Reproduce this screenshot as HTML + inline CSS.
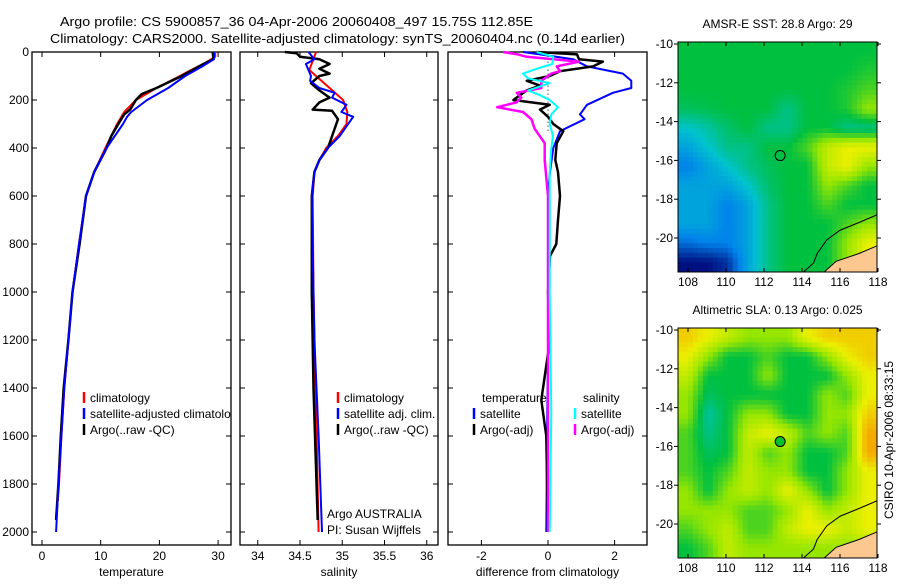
<!DOCTYPE html>
<html><head><meta charset="utf-8"><style>
body{margin:0;background:#fff;width:900px;height:580px;overflow:hidden}
svg{font-family:"Liberation Sans",sans-serif;font-size:12px}
</style></head><body>
<svg id="root" width="900" height="580" viewBox="0 0 900 580">
<text x="60" y="26" font-size="13" textLength="473" lengthAdjust="spacingAndGlyphs">Argo profile: CS 5900857_36 04-Apr-2006 20060408_497 15.75S 112.85E</text>
<text x="50" y="43" font-size="13" textLength="575" lengthAdjust="spacingAndGlyphs">Climatology: CARS2000. Satellite-adjusted climatology: synTS_20060404.nc (0.14d earlier)</text>
<g id="plots"></g>
<text transform="translate(893,440) rotate(-90)" text-anchor="middle" font-size="12">CSIRO 10-Apr-2006 08:33:15</text>
</svg>
<script>
// ---------- profile data ----------
const tClimD=[0,20,50,80,100,150,200,250,300,400,500,600,800,1000,1200,1400,1600,1800,1870];
const tClimV=[29.5,29.5,27.5,25,23.5,19.5,16,14,12.8,10.8,8.9,7.5,6.3,5.2,4.5,3.8,3.3,2.9,2.7];
const tSatD=[0,30,60,100,150,200,250,270,300,400,500,600,800,1000,1200,1400,1600,1800,2000];
const tSatV=[29.3,29.3,27.3,24.4,21.5,17.9,15.2,14.5,13.8,11,8.9,7.5,6.3,5.2,4.5,3.8,3.3,2.8,2.4];
const tArgD=[0,30,50,100,150,175,200,240,260,280,300,350,400,500,600,800,1000,1200,1400,1600,1800,1950];
const tArgV=[29.1,29.2,27.5,23.8,19.5,17,16,15,14,13.5,13,11.8,11,8.9,7.5,6.4,5.2,4.5,3.7,3.2,2.8,2.4];
const sClimD=[0,75,150,200,250,300,350,400,450,500,600,1000,1500,2000];
const sClimV=[34.69,34.61,34.85,35.01,35.06,35.05,34.95,34.81,34.73,34.67,34.65,34.66,34.69,34.72];
const sSatD=[0,30,50,100,120,150,170,190,220,250,270,350,400,450,500,600,1200,1600,2000];
const sSatV=[34.6,34.67,34.57,34.63,34.62,34.73,34.91,34.88,35.05,34.99,35.13,34.97,34.83,34.73,34.67,34.64,34.67,34.72,34.76];
const sArgD=[0,5,20,30,50,70,90,100,130,160,190,210,240,245,280,350,400,450,500,600,1000,1400,1950];
const sArgV=[34.32,34.46,34.5,34.73,34.85,34.73,34.85,34.73,34.63,34.73,34.85,34.73,34.65,34.88,34.95,34.88,34.83,34.73,34.67,34.64,34.64,34.66,34.71];
const dTSatD=[0,10,30,60,90,120,150,170,220,260,280,330,400,500,600,1000,1500,2000];
const dTSatV=[-0.75,-0.24,0.75,1.17,2.25,2.5,2.5,1.95,1.17,0.96,1.1,0.36,0.16,0.06,0,0.02,-0.02,-0.05];
const dTArgD=[0,10,30,40,60,80,100,120,140,160,180,200,220,240,270,300,330,380,450,500,600,700,800,850,1000,1200,1450,1600,2000];
const dTArgV=[-0.34,0.87,0.93,1.65,1.35,0.36,0.05,-0.64,-0.24,-0.64,-0.84,-1.04,0.05,-0.24,0.0,0.16,0.46,0.26,0.22,0.3,0.36,0.3,0.25,0.06,0,0.06,-0.2,-0.05,0];
const dSSatD=[0,20,50,70,90,110,130,160,180,200,230,260,300,350,400,500,1000,1500,2000];
const dSSatV=[-0.34,0.16,0.13,-0.34,-0.75,-0.6,0.05,-0.6,-0.24,0.05,0.3,0.1,0.05,0.15,0.1,0.05,0.05,0.1,0.05];
const dSArgD=[0,10,20,40,60,80,90,120,150,170,190,210,230,250,280,320,380,450,600,2000];
const dSArgV=[-1.35,-0.9,-0.64,0.93,0.26,0.36,0.1,-0.2,-0.2,-0.94,-0.8,-0.95,-1.53,-0.75,-0.5,-0.4,-0.1,-0.1,0,0];
const depthTicks=[0,200,400,600,800,1000,1200,1400,1600,1800,2000];
const tTicks=[0,10,20,30], sTicks=[34,34.5,35,35.5,36], dTicks=[-2,0,2];
// ---------- map data (coarse grids, colour index) ----------
const sstGrid=[
[3,3,3,3,3,3,3,3,3,3],[3,3,3,3,3,3,3,3,3,3.2],[3,3,3,3,3,3,3,3,3.2,3.5],
[2.8,2.9,3,3,3,2.5,3,3,3.2,4],[2,2.3,2.7,3,2.5,2.5,3,3,2.5,2.5],[1.5,2,2.5,2.5,3,3,3.5,4.5,5,5],
[1,1.5,2,2.5,2.8,3,3,4.5,5,4],[1.5,1.5,1.5,2,2.7,3,3,4,3.5,3],[1.5,1.5,1,1.5,2.5,3,3,3.5,3,3],
[1.5,1.5,1,1.5,2.5,3,3,3,3.5,4],[0.8,1,1,1.5,2.5,3,3,3,4,5],[0,0,0.3,1.5,2.5,3,3,3,4,5]];
const slaGrid=[
[5.5,5,4.5,4,4,4,5,5.5,5.5,5.5],[5,4,3,3,3.5,3,3,4,5,5.5],[4.5,3,3,3,4,3,3,3,4,5],
[4,2.8,3,3,3,3,3,4,3.5,5],[4,2.3,3,4,4,3,3,4,4,5.5],[3.5,2.5,3,4.5,5,4.5,3.5,4,3.5,6],
[3.5,2.8,3,4.5,3.5,4,3,3,3.5,6],[3.5,3,3.5,4.5,4,4,3,3,4,5],[4,3,4,4.5,4,5,4,3,4,5],
[4,4,4,3.5,3.5,4,5,4,4.5,5],[3.5,4,4.5,3.5,3.5,4.5,5,5,4.5,5],[3,3.5,4.5,4,4,4,4,4,4,4]];
const lonTicks=[108,110,112,114,116,118], latTicks=[-10,-12,-14,-16,-18,-20];

const NS='http://www.w3.org/2000/svg';
const G=document.getElementById('plots');
function mk(tag,attrs,parent){const e=document.createElementNS(NS,tag);for(const k in attrs)e.setAttribute(k,attrs[k]);(parent||G).appendChild(e);return e;}
const yD=d=>52+d*0.24;

function panel(name,x0,x1,sx,ticks,label,showY){
  const g=mk('g',{});
  
  
  const fr=mk('rect',{x:x0,y:52,width:x1-x0,height:493,fill:'none',stroke:'#000','stroke-width':1.3},g);
  
  
  depthTicks.forEach(d=>{
    mk('line',{x1:x0,x2:x0+5,y1:yD(d),y2:yD(d),stroke:'#000'},g);
    mk('line',{x1:x1,x2:x1-5,y1:yD(d),y2:yD(d),stroke:'#000'},g);
    if(showY){const t=mk('text',{x:x0-3,y:yD(d)+4,'text-anchor':'end'},g);t.textContent=d;
      
      }
  });
  ticks.forEach(v=>{const x=sx(v);
    mk('line',{x1:x,x2:x,y1:545,y2:540,stroke:'#000'},g);
    mk('line',{x1:x,x2:x,y1:52,y2:57,stroke:'#000'},g);
    const t=mk('text',{x:x,y:560,'text-anchor':'middle'},g);t.textContent=v;
    
    });
  const t=mk('text',{x:(x0+x1)/2,y:576,'text-anchor':'middle'},g);t.textContent=label;
  
  
  return g;
}
function line(g,D,V,sx,col,w,name){
  const p=mk('polyline',{points:D.map((d,i)=>sx(V[i]).toFixed(1)+','+yD(d).toFixed(1)).join(' '),fill:'none',stroke:col,'stroke-width':w,'stroke-linejoin':'round'},g);
  
  
}
function legend(g,x,y,col,txt,name){
  if(col)mk('line',{x1:x,x2:x,y1:y-10,y2:y+1,stroke:col,'stroke-width':2.5},g);
  const t=mk('text',{x:x+6,y:y},g);t.textContent=txt;
  
  
}
const defs=mk('defs',{});
const cp=mk('clipPath',{id:'c1'},defs);mk('rect',{x:32,y:52,width:199,height:493},cp);

const sxT=v=>42+v*5.87, sxS=v=>300+(v-34.5)*84.5, sxD=v=>548+v*33.3;
const g1=panel('temperature',32,231,sxT,tTicks,'temperature',true);
line(g1,tClimD,tClimV,sxT,'#f00',2,'temp-climatology-line');
line(g1,tArgD,tArgV,sxT,'#000',2.5,'temp-argo-line');
line(g1,tSatD,tSatV,sxT,'#00f',2,'temp-satellite-line');
const lg1=mk('g',{'clip-path':'url(#c1)'},g1);
legend(lg1,84,402,'#f00','climatology','legend-climatology');
legend(lg1,84,418,'#00f','satellite-adjusted climatology','legend-satellite-adjusted');
legend(lg1,84,434,'#000','Argo(..raw -QC)','legend-argo');

const g2=panel('salinity',240,438,sxS,sTicks,'salinity',false);
line(g2,sClimD,sClimV,sxS,'#f00',2,'sal-climatology-line');
line(g2,sArgD,sArgV,sxS,'#000',2.5,'sal-argo-line');
line(g2,sSatD,sSatV,sxS,'#00f',2,'sal-satellite-line');
legend(g2,338,402,'#f00','climatology','legend-sal-climatology');
legend(g2,338,418,'#00f','satellite adj. clim.','legend-sal-satellite');
legend(g2,338,434,'#000','Argo(..raw -QC)','legend-sal-argo');
legend(g2,321,518,null,'Argo AUSTRALIA','argo-australia-label');
legend(g2,321,534,null,'PI: Susan Wijffels','pi-label');

const g3=panel('difference',448,647,sxD,dTicks,'difference from climatology',false);
mk('line',{x1:548,x2:548,y1:yD(40),y2:yD(330),stroke:'#000','stroke-dasharray':'1,3'},g3);
line(g3,dTSatD,dTSatV,sxD,'#00f',2,'diff-temp-satellite-line');
line(g3,dTArgD,dTArgV,sxD,'#000',2.5,'diff-temp-argo-line');
line(g3,dSArgD,dSArgV,sxD,'#f0f',2.5,'diff-sal-argo-line');
line(g3,dSSatD,dSSatV,sxD,'#0ff',2,'diff-sal-satellite-line');
legend(g3,476,402,null,'temperature','legend-temperature-header');
legend(g3,474,418,'#00f','satellite','legend-temp-satellite');
legend(g3,474,434,'#000','Argo(-adj)','legend-temp-argo');
legend(g3,577,402,null,'salinity','legend-salinity-header');
legend(g3,575,418,'#0ff','satellite','legend-sal-satellite-diff');
legend(g3,575,434,'#f0f','Argo(-adj)','legend-sal-argo-diff');

// ---------- maps ----------
const cmapStops=[[0,[0,16,128]],[1,[0,130,235]],[2,[0,195,205]],[3,[0,192,64]],[4,[150,230,0]],[5,[235,240,0]],[6,[245,170,0]]];
function cmap(v){for(let i=0;i<cmapStops.length-1;i++){const [a,ca]=cmapStops[i],[b,cb]=cmapStops[i+1];
  if(v<=b){const t=Math.max(0,(v-a)/(b-a));return 'rgb('+ca.map((c,j)=>Math.round(c+(cb[j]-c)*t)).join(',')+')';}}
  return 'rgb(245,170,0)';}
function sample(grid,fr,fc){ // bilinear sample at fractional cell-centre coords
  const R=grid.length,C=grid[0].length;
  const r=Math.min(Math.max(fr,0),R-1),c=Math.min(Math.max(fc,0),C-1);
  const r0=Math.floor(r),c0=Math.floor(c),r1=Math.min(r0+1,R-1),c1=Math.min(c0+1,C-1),tr=r-r0,tc=c-c0;
  return grid[r0][c0]*(1-tr)*(1-tc)+grid[r0][c1]*(1-tr)*tc+grid[r1][c0]*tr*(1-tc)+grid[r1][c1]*tr*tc;
}
function map(name,top,grid,title,ring){
  const x0=678,x1=877,bot=top+230;
  const lx=lon=>688+(lon-108)*19, ly=lat=>top+2+(-10-lat)*19.4;
  const g=mk('g',{});
  
  
  const cid='clip'+name;const c=mk('clipPath',{id:cid},defs);mk('rect',{x:x0,y:top,width:x1-x0,height:230},c);
  const cg=mk('g',{'clip-path':'url(#'+cid+')'},g);
  const rows=grid.length,cols=grid[0].length,sub=4;
  const cw=(x1-x0)/(cols*sub),ch=230/(rows*sub);
  for(let r=0;r<rows*sub;r++)for(let k=0;k<cols*sub;k++){
    const v=sample(grid,(r+0.5)/sub-0.5,(k+0.5)/sub-0.5);
    const cell=mk('rect',{x:(x0+k*cw).toFixed(2),y:(top+r*ch).toFixed(2),width:(cw+0.4).toFixed(2),height:(ch+0.4).toFixed(2),fill:cmap(v)},cg);
    
    
  }
  const land=mk('polygon',{points:[[118.2,-20.3],[117,-20.8],[115.8,-21.2],[115,-21.9],[118.2,-21.9]].map(p=>lx(p[0])+','+ly(p[1])).join(' '),fill:'#fcc890'},cg);
  
  
  mk('polyline',{points:[[118.2,-18.7],[117,-19.2],[116,-19.6],[115.3,-20.1],[114.8,-20.8],[114.6,-21.3],[113.9,-21.9]].map(p=>lx(p[0])+','+ly(p[1])).join(' '),fill:'none',stroke:'#000','stroke-width':1},cg);
  mk('polyline',{points:[[118.2,-20.3],[117,-20.8],[115.8,-21.2],[115,-21.9]].map(p=>lx(p[0])+','+ly(p[1])).join(' '),fill:'none',stroke:'#000','stroke-width':1},cg);
  mk('rect',{x:x0,y:top,width:x1-x0,height:230,fill:'none',stroke:'#000'},g);
  const m=mk('circle',{cx:lx(112.85),cy:ly(-15.75),r:5,fill:ring?'none':'#00c030',stroke:'#000','stroke-width':1},g);
  
  
  lonTicks.forEach(v=>{const x=lx(v);mk('line',{x1:x,x2:x,y1:bot,y2:bot-4,stroke:'#000'},g);mk('line',{x1:x,x2:x,y1:top,y2:top+4,stroke:'#000'},g);
    const t=mk('text',{x:x,y:bot+14,'text-anchor':'middle'},g);t.textContent=v;
    
    });
  latTicks.forEach(v=>{const y=ly(v);mk('line',{x1:x0,x2:x0-4,y1:y,y2:y,stroke:'#000'},g);mk('line',{x1:x1,x2:x1+4,y1:y,y2:y,stroke:'#000'},g);
    const t=mk('text',{x:x0-5,y:y+4,'text-anchor':'end'},g);t.textContent=v;
    
    });
  const t=mk('text',{x:(x0+x1)/2,y:top-14,'text-anchor':'middle'},g);t.textContent=title;
  
  
}
map('sst',42,sstGrid,'AMSR-E SST: 28.8 Argo: 29',true);
map('sla',328,slaGrid,'Altimetric SLA: 0.13 Argo: 0.025',false);
</script>
</body></html>
